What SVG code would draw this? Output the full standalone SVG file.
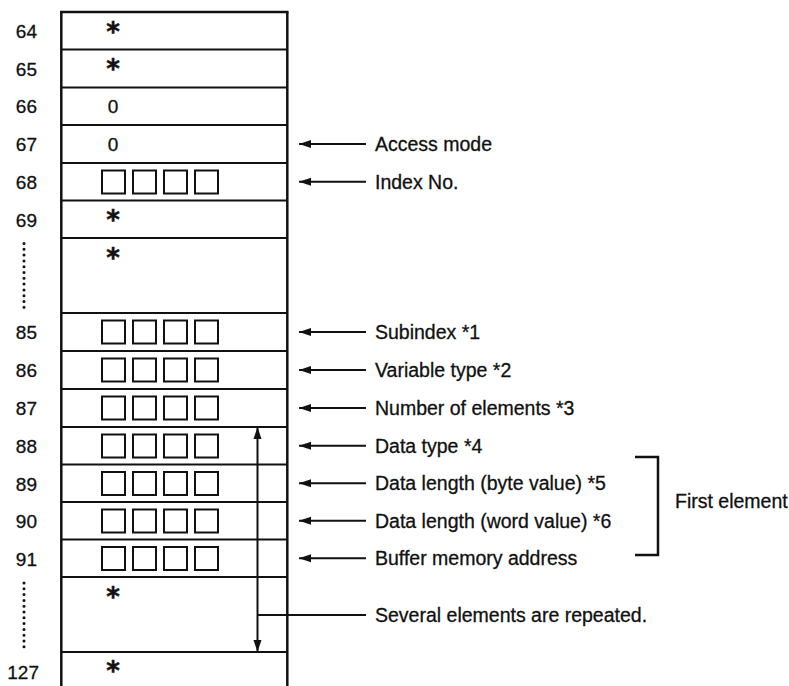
<svg xmlns="http://www.w3.org/2000/svg" width="789" height="686" viewBox="0 0 789 686">
<style>
text{font-family:"Liberation Sans",Arial,sans-serif;fill:#111;stroke:#111;stroke-width:0.3}
.num{font-size:19px;text-anchor:end}
.lbl{font-size:19.5px}
.zero{font-size:19px;text-anchor:middle}
.ast{font-family:"DejaVu Sans",sans-serif;font-size:26px;font-weight:bold;text-anchor:middle;stroke-width:0.5}
.hl{stroke:#111;stroke-width:2}
.sq{fill:none;stroke:#111;stroke-width:2}
.frame{stroke:#111;stroke-width:2.5;fill:none}
.arr{stroke:#111;stroke-width:2;fill:none;marker-end:url(#ah)}
.dots{stroke:#111;stroke-width:3;stroke-linecap:round;stroke-dasharray:0 5.8;fill:none}
</style>
<defs>
<marker id="ah" markerUnits="userSpaceOnUse" markerWidth="13" markerHeight="9" refX="12" refY="4.5" orient="auto-start-reverse" viewBox="0 0 13 9">
<path d="M0,0.5 L12,4.5 L0,8.5 z" fill="#111"/>
</marker>
<g id="sq4">
<rect class="sq" x="102" y="0" width="23" height="23"/>
<rect class="sq" x="133" y="0" width="23" height="23"/>
<rect class="sq" x="164" y="0" width="23" height="23"/>
<rect class="sq" x="195" y="0" width="23" height="23"/>
</g>
</defs>
<rect width="789" height="686" fill="#fff"/>

<g id="table">
<line class="frame" x1="61.3" y1="12" x2="61.3" y2="686"/>
<line class="frame" x1="287.3" y1="12" x2="287.3" y2="686"/>
<line class="frame" x1="60" y1="12" x2="288.5" y2="12"/>
<line class="hl" x1="61" y1="49.5" x2="287" y2="49.5"/>
<line class="hl" x1="61" y1="87.5" x2="287" y2="87.5"/>
<line class="hl" x1="61" y1="125" x2="287" y2="125"/>
<line class="hl" x1="61" y1="163" x2="287" y2="163"/>
<line class="hl" x1="61" y1="200.5" x2="287" y2="200.5"/>
<line class="hl" x1="61" y1="238" x2="287" y2="238"/>
<line class="hl" x1="61" y1="313" x2="287" y2="313"/>
<line class="hl" x1="61" y1="351" x2="287" y2="351"/>
<line class="hl" x1="61" y1="389" x2="287" y2="389"/>
<line class="hl" x1="61" y1="427" x2="287" y2="427"/>
<line class="hl" x1="61" y1="464.5" x2="287" y2="464.5"/>
<line class="hl" x1="61" y1="502" x2="287" y2="502"/>
<line class="hl" x1="61" y1="539.5" x2="287" y2="539.5"/>
<line class="hl" x1="61" y1="577" x2="287" y2="577"/>
<line class="hl" x1="61" y1="652" x2="287" y2="652"/>
</g>

<g id="row64"><text class="num" x="37" y="38">64</text><text class="ast" x="113" y="40.5">*</text></g>
<g id="row65"><text class="num" x="37" y="75.5">65</text><text class="ast" x="113" y="78">*</text></g>
<g id="row66"><text class="num" x="37" y="113">66</text><text class="zero" x="113" y="113">0</text></g>
<g id="row67"><text class="num" x="37" y="151">67</text><text class="zero" x="113" y="151">0</text></g>
<g id="row68"><text class="num" x="37" y="189">68</text><use href="#sq4" y="170.5"/></g>
<g id="row69"><text class="num" x="37" y="226.5">69</text><text class="ast" x="113" y="229">*</text></g>
<g id="gap1"><line class="dots" x1="24" y1="243.5" x2="24" y2="312"/><text class="ast" x="113" y="266.5">*</text></g>
<g id="row85"><text class="num" x="37" y="339">85</text><use href="#sq4" y="320.5"/></g>
<g id="row86"><text class="num" x="37" y="377">86</text><use href="#sq4" y="358.5"/></g>
<g id="row87"><text class="num" x="37" y="415">87</text><use href="#sq4" y="396.5"/></g>
<g id="row88"><text class="num" x="37" y="453">88</text><use href="#sq4" y="434.5"/></g>
<g id="row89"><text class="num" x="37" y="490.5">89</text><use href="#sq4" y="472"/></g>
<g id="row90"><text class="num" x="37" y="528">90</text><use href="#sq4" y="509.5"/></g>
<g id="row91"><text class="num" x="37" y="565.5">91</text><use href="#sq4" y="547"/></g>
<g id="gap2"><line class="dots" x1="24" y1="583" x2="24" y2="651"/><text class="ast" x="113" y="605.5">*</text></g>
<g id="row127"><text class="num" x="39" y="678.5">127</text><text class="ast" x="113" y="680">*</text></g>

<g id="connectors">
<line class="arr" x1="366" y1="144" x2="299" y2="144"/>
<line class="arr" x1="366" y1="181.75" x2="299" y2="181.75"/>
<line class="arr" x1="366" y1="332" x2="299" y2="332"/>
<line class="arr" x1="366" y1="370" x2="299" y2="370"/>
<line class="arr" x1="366" y1="408" x2="299" y2="408"/>
<line class="arr" x1="366" y1="445.75" x2="299" y2="445.75"/>
<line class="arr" x1="366" y1="483.25" x2="299" y2="483.25"/>
<line class="arr" x1="366" y1="520.75" x2="299" y2="520.75"/>
<line class="arr" x1="366" y1="558.25" x2="299" y2="558.25"/>
<line x1="257.5" y1="427" x2="257.5" y2="652" stroke="#111" stroke-width="2" marker-start="url(#ah)" marker-end="url(#ah)"/>
<line class="hl" x1="257.5" y1="615" x2="366" y2="615"/>
<path d="M635,457 H658 V555 H635" fill="none" stroke="#111" stroke-width="2.5"/>
</g>

<g id="lbl-access"><text class="lbl" x="375" y="150.5">Access mode</text></g>
<g id="lbl-index"><text class="lbl" x="375" y="188.5">Index No.</text></g>
<g id="lbl-sub"><text class="lbl" x="375" y="338.5">Subindex *1</text></g>
<g id="lbl-var"><text class="lbl" x="375" y="376.5">Variable type *2</text></g>
<g id="lbl-num"><text class="lbl" x="375" y="414.5">Number of elements *3</text></g>
<g id="lbl-dtype"><text class="lbl" x="375" y="452.5">Data type *4</text></g>
<g id="lbl-byte"><text class="lbl" x="375" y="490">Data length (byte value) *5</text></g>
<g id="lbl-word"><text class="lbl" x="375" y="527.5">Data length (word value) *6</text></g>
<g id="lbl-buf"><text class="lbl" x="375" y="565">Buffer memory address</text></g>
<g id="lbl-sev"><text class="lbl" x="375" y="621.5">Several elements are repeated.</text></g>
<g id="lbl-first"><text class="lbl" x="675" y="508">First element</text></g>
</svg>
